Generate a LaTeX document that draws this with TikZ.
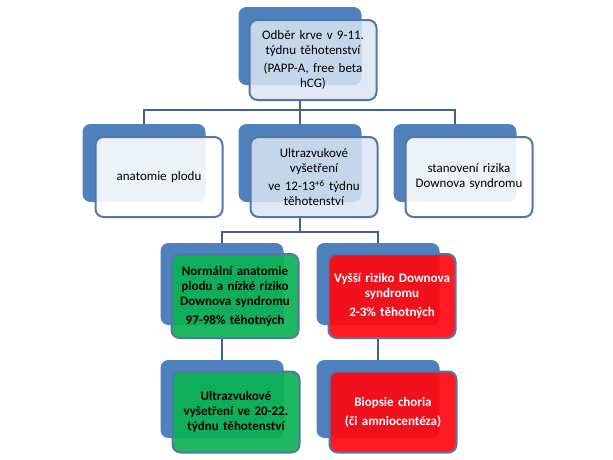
\documentclass[tikz,border=0pt]{standalone}
\usepackage{fontspec}
\setmainfont{Carlito}
\usepackage{tikz}
\usetikzlibrary{positioning, calc}
\definecolor{BackBlue}{RGB}{79, 129, 189}
\definecolor{EdgeBlue}{RGB}{84, 118, 170}
\definecolor{LinkBlue}{RGB}{62, 98, 150}
\definecolor{PaleBlue}{RGB}{218, 229, 243}
\definecolor{BoxGreen}{RGB}{10, 178, 82}
\definecolor{BoxRed}{RGB}{255, 8, 16}

\begin{document}
\begin{tikzpicture}[x=1pt, y=-1pt,
    back/.style={fill=BackBlue, rounded corners=8pt, minimum width=123pt, minimum height=78pt, inner sep=0pt},
    front/.style={draw=EdgeBlue, line width=2pt, rounded corners=8pt, minimum width=127pt, minimum height=80pt,
      inner sep=0pt, text width=125pt, align=center, font=\fontsize{13}{15}\selectfont},
    pale/.style={front, fill=PaleBlue, fill opacity=0.85, text opacity=1},
    plain/.style={front, fill=white, fill opacity=0.9, text opacity=1},
    good/.style={front, fill=BoxGreen, fill opacity=0.92, text opacity=1, minimum height=84pt, font=\fontsize{13}{15}\selectfont\bfseries},
    bad/.style={front, fill=BoxRed, fill opacity=0.92, text opacity=1, text=white, minimum height=84pt, font=\fontsize{13}{15}\selectfont\bfseries},
    link/.style={draw=LinkBlue, line width=2.6pt}]
    \useasboundingbox (0,0) rectangle (613,459);

    % Level 1
    \node[back] (odberB) at (300,46) {};
    \node[pale] (odber) at (313,60) {Odběr krve v 9-11.\\ týdnu těhotenství\\[3pt] (PAPP-A, free beta\\ hCG)};

    % Level 2
    \node[back] (anatomieB) at (144,163) {};
    \node[plain] (anatomie) at (159,177) {anatomie plodu};
    \node[back] (ultraB) at (300,163) {};
    \node[pale] (ultra) at (314,177) {Ultrazvukové\\ vyšetření\\[3pt] ve 12-13\textsuperscript{+6} týdnu\\ těhotenství};
    \node[back] (rizikoB) at (455,163) {};
    \node[plain] (riziko) at (469,177) {stanovení rizika\\ Downova syndromu};

    % Level 3
    \node[back, minimum height=82pt] (normalB) at (222,284) {};
    \node[good] (normal) at (235,296) {Normální anatomie\\ plodu a nízké riziko\\ Downova syndromu\\[4pt] 97-98\% těhotných};
    \node[back, minimum height=82pt] (vyssiB) at (378,284) {};
    \node[bad] (vyssi) at (392,296) {Vyšší riziko Downova\\ syndromu\\[4pt] 2-3\% těhotných};

    % Level 4
    \node[back] (dalsiB) at (222,399) {};
    \node[good, minimum height=81pt] (dalsi) at (236,412) {Ultrazvukové\\ vyšetření ve 20-22.\\ týdnu těhotenství};
    \node[back] (biopsieB) at (378,399) {};
    \node[bad, minimum height=81pt] (biopsie) at (393,412) {Biopsie choria\\[4pt] (či amniocentéza)};

    % Connectors
    \coordinate (split1) at (300,110);
    \draw[link] (odberB |- odber.south) -- (split1);
    \draw[link] (anatomieB.north) |- (split1) -| (rizikoB.north);
    \draw[link] (split1) -- (ultraB.north);
    \coordinate (split2) at (300,232);
    \draw[link] (ultraB |- ultra.south) -- (split2);
    \draw[link] (normalB.north) |- (split2) -| (vyssiB.north);
    \draw[link] (normalB |- normal.south) -- (dalsiB.north);
    \draw[link] (vyssiB |- vyssi.south) -- (biopsieB.north);
  \end{tikzpicture}
\end{document}
